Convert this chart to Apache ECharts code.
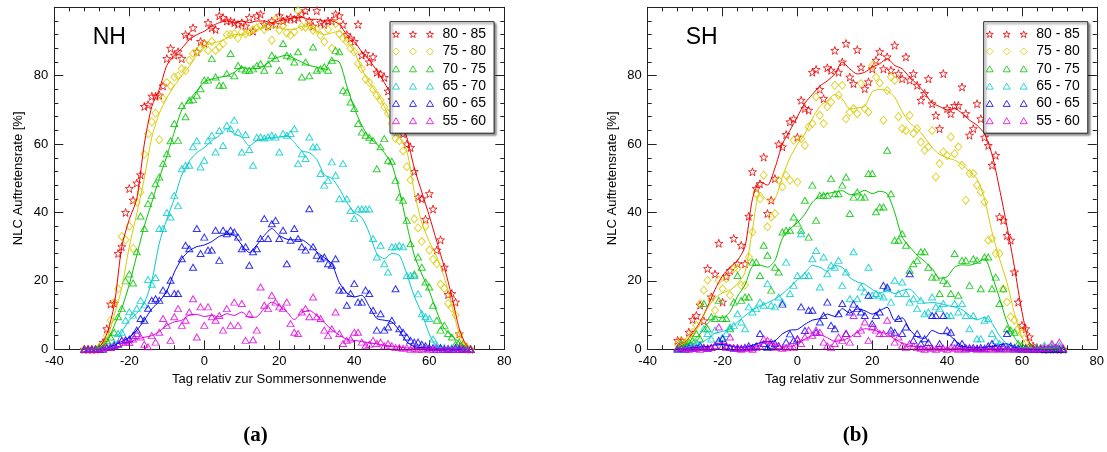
<!DOCTYPE html>
<html><head><meta charset="utf-8">
<script src="https://cdn.jsdelivr.net/npm/echarts@6/dist/echarts.min.js"></script>
<style>html,body{margin:0;padding:0;background:#fff}#c{width:1107px;height:452px}</style>
</head><body><div id="c"></div>
<script>
const BANDS = ['80 - 85','75 - 80','70 - 75','65 - 70','60 - 65','55 - 60'];
const X_TICKS = [-40,-20,0,20,40,60,80];
const Y_TICKS = [0,20,40,60,80];
const DAYS = [-32,-31,-30,-29,-28,-27,-26,-25,-24,-23,
 -22,-21,-20,-19,-18,-17,-16,-15,-14,-13,
 -12,-11,-10,-9,-8,-7,-6,-5,-4,-3,
 -2,-1,0,1,2,3,4,5,6,7,
 8,9,10,11,12,13,14,15,16,17,
 18,19,20,21,22,23,24,25,26,27,
 28,29,30,31,32,33,34,35,36,37,
 38,39,40,41,42,43,44,45,46,47,
 48,49,50,51,52,53,54,55,56,57,
 58,59,60,61,62,63,64,65,66,67,
 68,69,70,71];
const LINE_DAYS = [-32,-30,-28,-26,-24,-22,-20,-18,-16,-14,
 -12,-10,-8,-6,-4,-2,0,2,4,6,
 8,10,12,14,16,18,20,22,24,26,
 28,30,32,34,36,38,40,42,44,46,
 48,50,52,54,56,58,60,62,64,66,
 68,70];

// ---------- NH ----------
const NH_80_85 = [0,0,0,0,0.5,2,6,13.2,13.4,28,
 30,40,47,43.6,48.6,51,71,71.5,74,74,
 74.3,77,85,88,86,87,85,92,91.5,94,
 87,90,89.5,95.5,94,93.5,97.5,97,96,96,
 95.5,95,95.5,94.5,97,93,97.5,98,95,94.5,
 96,95,97.5,96,96.5,97,96.5,97,98,99,
 96,94.5,99,95.5,95,96,96,98,97.5,95,
 92,91,90,95,86,86.5,84,85.5,81,80.5,
 79.5,75.5,73,70,66,63,60,59,52,44.5,
 44,38,45.5,41,29,32,24,16,16.3,13.8,
 4.5,1.5,0.5,0];
const NH_80_85_LINE = [0,0,0.5,4.5,13,30,38,44,60,71,
 76,83,86,88,90.5,92,93,94.5,95.5,96,
 95.5,96,95.5,96,96,95.5,96,96.5,97,97,
 96.5,96.5,96,96,95,92,90,87,84.5,81.5,
 78,74,68,62,53,46,39,31.5,24,15.5,
 6,0.5];
const NH_75_80 = [0,0,0,0,0.5,1,4,8.5,13.8,17.7,
 33,32,36,29.5,43,46,57,63,66.5,69,
 61.3,73.3,78,77,79.6,80,82,81.5,84.5,86.5,
 87,88,89.4,87.4,90,87.4,88.4,89.4,92,92,
 92.3,91,92.8,92.3,92.8,93.5,94,94.7,93.5,94.4,
 90.4,96.4,93.3,94.7,92.5,91.8,92.8,99,94.4,94.2,
 94.7,93.3,93.5,91.8,89.9,93.5,88,95.2,92.3,91,
 89.9,88,87,83.5,82,79,78,76,74.3,72.8,
 70.9,69,66,61.7,61,58,53.4,49.5,38.1,35.5,
 31.5,36,29,26.3,25,19,17.8,13.4,12,10,
 4.4,1,0.5,0];
const NH_75_80_LINE = [0,0,0.5,3,10,18,30,39.7,50,62,
 69,73.5,77,80,82.7,86,88.5,89.5,90,91,
 92,92,92.5,93.5,94,94,94,93.5,93.5,94.5,
 94.5,93,92,92.5,93,90,87,82,78,75,
 71,66,62,58,46,37,31.5,27,21,13,
 4.5,0.5];
const NH_70_75 = [0,0,0,0,0.5,1,2.5,3.6,5,9.5,
 11.9,20,22,19.4,28.5,39,35.3,42.6,45,48.4,
 50.4,54.3,57.2,61,66,61.1,71.3,68,72.8,73,
 74.3,76.2,78.7,78.7,85,79.6,77.2,77.2,80.6,86.5,
 80,83,82,81.6,81.6,82,83,83.5,81.6,83.5,
 86,85,81.6,89.4,86,85.5,84,87,79.6,84,
 80,88.4,81.6,82,82.6,81.6,84.5,87.4,87,75.7,
 75.2,72.3,70.4,66,63.5,62.6,62,61.1,52.8,59.2,
 61.6,55.3,55,49.4,44.5,43.6,37.7,30.9,22,27,
 24,19.7,18.2,12.9,8.5,5.6,7,4.6,3.6,1.5,
 2.1,0.5,0,0];
const NH_70_75_LINE = [0,0,0.5,2,7,12,19,27.5,36,43,
 50,56.5,63.5,70,73,75.5,78.2,79,79.5,80,
 81,82.5,82,82,83,84.5,85.5,86,85,84,
 83,82.5,82,84.5,84,77,70.5,65.5,62,60,
 57.5,54,46.5,36.5,27.5,22,17,11,6,4,
 2,0.5];
const NH_65_70 = [0,0,0,0,0,0.5,0.5,1,1.7,4.6,
 5,8.5,11,10,12,14.3,13,20.4,19,21,
 35.3,35.3,40,38.7,45,42,52.8,53.8,53.8,59.2,
 61,53.3,55.3,61,62.6,57.7,64,59.6,65.5,64.5,
 67,63.5,57.7,62.8,58.4,53.8,62,62.1,61.8,62.1,
 62.6,62.1,57.7,63.1,62.6,63.1,64.5,54.3,57.2,55.8,
 62.1,59.2,59.2,51.4,48,49.4,54.8,50.9,44,54.3,
 44,40.6,38.2,41,41,41,41,32.4,27,30.4,
 25,22.6,30,30,30.4,30,21.6,21.6,21.6,16.2,
 10.4,9.5,9,3,1.2,0.5,0.5,0,0.5,0,
 0.5,0,0,0];
const NH_65_70_LINE = [0,0,0,0.3,1,5,8.5,10.5,13.5,20,
 31,38,44,51,55,57.5,59,61,62.5,64.5,
 63,62,59.5,61,61.5,62,62,62.5,60.5,58,
 57.5,55.5,51,50,47,43,40,38.5,34,28,
 26.5,28,27.5,22,15.5,10.5,4.5,0.7,0.3,0.3,
 0.3,0];
const NH_60_65 = [0,0,0,0,0,0,0.5,0.5,1.2,1.5,
 2.6,2.8,3,4,5.6,9,8.5,12,14.3,14.8,
 14.3,17.3,16.3,20.2,16.3,16.3,26.5,30.4,29.4,24,
 35.3,28,32.8,29,29,34.8,26,34.8,33.8,34.8,
 34.3,32.8,29.4,30,24.6,28.5,29.4,32.4,38.2,32.4,
 36.7,37.7,32.4,34.8,25,31.9,35.3,32.4,30,29,
 41.1,30,27.5,26.5,27,25,24.6,26.5,17.3,17.3,
 12.9,16.3,19.2,13.8,13.8,17.3,16.3,11.4,5.6,10.4,
 5.6,6.5,8.5,17.7,6,5,3.6,2.6,2.1,2.1,
 1.5,1,0.5,0.5,0,0.5,0,0,0,0.5,
 0,0,0,0];
const NH_60_65_LINE = [0,0,0,0.3,1.2,2.3,3.5,5.6,8.5,11.8,
 14,17,22.5,26.5,28.8,30,30.5,31.5,33,33.6,
 33.3,30.5,28.3,30.5,33.3,35.3,33.3,32.2,32,32,
 30.5,28.5,26.8,25,19.5,16.5,15.3,15.8,12.5,9,
 8.5,8,5.5,2.2,0.8,0.5,0.3,0.2,0.1,0.1,
 0.1,0];
const NH_55_60 = [0,0,0,0,0,0.3,0.5,0.5,1,1.7,
 2.6,2.1,2,3,4.6,3.6,1.5,0.7,4,2.1,
 5,9,7,2.6,9.5,11.9,7,8.5,10.9,14.8,
 3.6,12.4,7,12.4,9.5,8.5,9.9,5.6,11.9,7,
 13.8,7,13.4,2.6,10.4,2.8,5.6,18.2,12.9,11.9,
 15.8,13.8,12.4,11.9,13.8,7.5,5,4.6,10.9,11.9,
 9.5,15.3,9.5,9,5.6,4,6,10.9,4.6,1.7,
 2.6,3,5,5,2.1,1.2,1.5,2.6,1.7,2.1,
 1,1.7,1,0.5,0.5,0.3,0.5,0,0.3,0,
 0,0.3,0,0,0.5,0,0,0.3,0,0,
 0.5,0,0,0];
const NH_55_60_LINE = [0,0,0,0.3,0.5,1,2,3,3.5,4,
 5.2,7,8,8.5,10,10.2,9.6,9.9,9.5,10.4,
 9.9,10.9,9.3,9.5,12,13.8,12.7,11,8.7,10.7,
 11.4,9.8,7.8,5.7,4.2,2.9,2.6,2.3,1.9,1.6,
 1.2,0.9,0.6,0.4,0.3,0.2,0.2,0.2,0.1,0.1,
 0.1,0];

// ---------- SH ----------
const SH_80_85 = [2.6,2.6,1.5,5,8.7,9.9,12.9,8.3,23.6,15.3,
 22,31,13.8,21.3,23,32.4,25,30.4,25,38.9,
 51.9,47,48.4,56.2,39.7,43.6,49.9,60,59.2,62.8,
 66.5,67.4,62,72.8,70.4,69.9,81,81.8,76,73.3,
 82.3,81.6,87.4,81,84,89.4,79.6,77.7,87.6,82.5,
 76.2,78.2,82,84.5,87,82,85.5,81.6,88.9,80.6,
 79.1,85.5,78.7,80.6,77.2,72.8,74.8,79.1,71.8,68.4,
 64.5,80.6,70.4,68.9,71.3,71.3,76.7,68.9,62.6,64.5,
 71.8,67.4,62,59.6,53.8,56.7,38.7,37.7,33.3,31.9,
 22.6,13.8,7,6,3.6,1,0.5,0.3,0,0,
 0.3,0,0,0];
const SH_80_85_LINE = [1,2.1,4.8,8,12.5,17.5,21.5,24,26,30,
 44,49,48,53,60,64,68,72,74.5,77,
 78.5,80.5,84,82,80.5,81,82.5,83.5,85,83,
 82,79.5,77.5,75,72,71,70,70.4,69,67,
 65.5,63,57,47,36,24,11,2,0.3,0.2,
 0.2,0];
const SH_75_80 = [1.5,2.6,1.5,3,5,7,13.4,17.3,20.2,14.8,
 11.4,20.2,17.7,20.7,15.8,23.6,23.6,18.7,18.7,27,
 34.3,45.5,44,50.9,35.8,38.7,39.7,49.4,47.5,50.9,
 49.4,61.1,48.9,61.6,59.6,65,66,73.8,68.4,66,
 70.9,72.3,77.2,74.3,77.2,67.4,69.3,70.4,68.9,77.7,
 70.4,69.4,83,79.6,77.9,67,75.7,79.6,78.7,68,
 64.5,64,68.4,63.1,64.5,60.6,58.2,59.2,64,50.4,
 54.3,57.7,56.7,62.1,57.2,59.2,53.8,43.6,51.4,51.4,
 48,46,43.1,31.9,32.4,28,28,17.7,13.8,9.5,
 8.5,6,4.6,1.7,0.5,0.3,0,0.3,0,0,
 0,0.3,0,0];
const SH_75_80_LINE = [0.8,2,4.3,7.5,12,15,16.5,17.3,19.2,22.5,
 35,46,43.6,44,50.5,56,60,63,67.5,71,
 72.7,74.5,73.2,70.3,70.6,71,75.3,76,75.7,73.7,
 69.5,66.2,64.5,62,59,57,56,55.3,54,52,
 49.8,44,34.3,26.5,19.5,10.5,3.5,0.6,0.2,0.2,
 0.1,0];
const SH_70_75 = [0.5,1.7,1,2.1,2.6,4.6,3,13.4,6,9.5,
 9,14.3,9,9,6,13.8,21.6,14.3,15.3,15.3,
 25.5,25.5,21.6,30.4,27.5,17.3,24,22.6,34.3,34.8,
 34.8,38.7,36.9,34.8,43.6,32.8,48,37.7,45,45,
 45,49.9,45.5,45.5,48,50.4,39.7,44.5,46,44.5,
 44.5,51.4,51.4,40.2,41.6,41.6,58.2,45.5,31.9,31.9,
 33.8,30.4,23.1,25,26,28.5,28.5,24,21.1,21.1,
 16.3,20.2,19.2,16.3,28,15.8,26,26,18.7,26.5,
 26,17.7,27,27,17.7,21.1,13.4,17.7,6,5.6,
 5,1.7,1.2,0.5,1,0.3,0,0.3,0,0,
 0,0,0,0];
const SH_70_75_LINE = [0.5,1.2,2.3,4.5,7.5,9.5,9.2,11,15.5,18.8,
 24.3,24.6,24,26,32.5,35.2,37,39.5,43,44.8,
 45.5,46,46.4,45.2,45.5,46.5,45.5,46.2,45.5,40,
 32.8,30,27.5,25.7,23.6,20.8,21.2,24,24.7,24.6,
 25.3,26.5,21.5,15,8,3.5,0.8,0.3,0.2,0.1,
 0.1,0];
const SH_65_70 = [0.3,0.5,0.5,1.2,1.2,2,1,6,4.6,3,
 5.6,2,3.5,4.6,6.5,7,10.4,8,6,12.4,
 10.9,11.9,13.8,12.9,19.2,12.9,12.4,15.3,13.8,25.5,
 16.3,18.7,21.6,33.8,21.6,21.6,26.5,28.9,18.2,27,
 22.1,24.6,24,26,18.7,22.6,14.8,28.5,14.8,18.2,
 16.8,24,15.8,16.3,15.8,15.3,17.7,13.8,20.2,16.3,
 19.7,16.3,13.8,14.8,11.9,14.3,10.4,10.9,15.3,12.4,
 11.9,13.4,9.9,9.9,13.4,10.9,13.4,9.9,6,9.9,
 3.1,3.1,8.5,9,4.6,2.6,1.7,0.5,0.3,0.3,
 0,0.3,0,0.3,0,0.3,0.5,0.3,1.2,0.5,
 1.2,0.5,1.2,0.3];
const SH_65_70_LINE = [0.2,0.5,1,1.8,3,4.7,5.2,6,8,9.8,
 11.5,12.6,13.6,14.7,16.2,18.2,20.3,22.3,24.5,24,
 22.8,24.5,24,21,19.7,19,17.5,16.4,17.2,16.3,
 17.2,17.6,15.5,13.5,13.7,13.4,12.8,12.4,11.6,9.9,
 8.6,9.4,7.6,4,1.5,0.7,0.4,0.3,0.4,0.6,
 0.7,0.6];
const SH_60_65 = [0,0.3,0,0.5,0.3,0.5,1.2,0.5,0.3,0.5,
 1,2.6,3.1,1,0.5,0.3,0.5,0.3,0.5,1,
 0.5,1,4.6,1.7,0.5,1.2,1.7,1,13.2,2.1,
 4.5,2.6,3,12.4,5.5,11.4,11.4,5,8,9.9,
 13.8,7,6,10.4,13.4,4.6,10.9,13.2,11.9,10.9,
 9.9,15.8,7.5,9.9,10.9,18.7,18.2,5.6,5,9,
 4.6,6.5,22.1,2.6,4.6,1.7,3.1,2,9.9,9.9,
 1.7,9.9,5.6,5,2.1,1,1.7,0.5,0.3,0.5,
 0.3,0.5,0.3,1,1.7,0.5,0.3,1,4.6,1,
 0.5,0.3,0,0.3,0,0,0,0,0,0,
 0,0,0,0];
const SH_60_65_LINE = [0.2,0.3,0.4,0.7,0.8,1.3,1.4,1,0.6,0.6,
 1.2,1.9,2.2,2.5,4.5,5.6,5.8,7.3,8.5,9,
 10.3,9.6,11.9,10.6,11.8,11.3,10.3,11.3,12.3,8.5,
 9.2,5.8,3.6,3.2,5.5,4.6,4.5,2.8,1,0.5,
 0.4,0.5,0.9,1.3,1.6,0.6,0.2,0.1,0,0,
 0,0];
const SH_55_60 = [0.3,0.5,0.3,0,0.5,0.3,0,0.5,0.3,0.5,
 1,6.5,1,0.5,3.6,0.5,0.3,0,0.5,0.3,
 0,0.5,1,3.1,2.6,2.1,0.5,1,0.3,0.5,
 1,0.5,3.1,1.7,3.6,5.6,4.1,5.6,5,2.1,
 1,0.5,1.7,3.6,2.6,4.6,2.1,9.9,4.6,5.6,
 8,2.6,6.5,5.6,4.6,4.6,8.5,4.6,2.1,3.6,
 1.2,0.5,1.7,1,0.5,0.3,0,0.5,0.3,0,
 0.5,0.3,0,0.5,0.3,0,0.3,0,0.5,0.3,
 0,0.3,0,0.3,0,0.3,0,0.3,0,0.3,
 0,0.3,0,0.3,0,0.3,0,0.3,0.5,0.3,
 1.7,0.5,2.1,0.3];
const SH_55_60_LINE = [0.3,0.3,0.3,0.3,0.4,1.5,1.8,1.3,0.5,0.4,
 0.4,1.2,2.2,1.6,0.7,0.7,1.6,3,4,4.2,
 3.4,2.3,2.6,3.5,5,6,5.8,5,4.5,3,
 1.8,1.2,0.6,0.3,0.3,0.3,0.3,0.3,0.2,0.3,
 0.2,0.2,0.2,0.2,0.2,0.2,0.2,0.2,0.3,0.6,
 0.9,0.9];

const NH_POINTS = [NH_80_85, NH_75_80, NH_70_75, NH_65_70, NH_60_65, NH_55_60];
const NH_LINES  = [NH_80_85_LINE, NH_75_80_LINE, NH_70_75_LINE, NH_65_70_LINE, NH_60_65_LINE, NH_55_60_LINE];
const SH_POINTS = [SH_80_85, SH_75_80, SH_70_75, SH_65_70, SH_60_65, SH_55_60];
const SH_LINES  = [SH_80_85_LINE, SH_75_80_LINE, SH_70_75_LINE, SH_65_70_LINE, SH_60_65_LINE, SH_55_60_LINE];

// ---------- styling ----------
const COLORS = ['#ee0000', '#d8ca00', '#00c400', '#00cccc', '#0000ee', '#dd00dd'];
const FONT = 'Liberation Sans, Arial, sans-serif';
const STAR = [[5,0],[6.18,3.38],[9.76,3.45],[6.9,5.62],[7.94,9.05],[5,7],[2.06,9.05],[3.1,5.62],[0.24,3.45],[3.82,3.38]];
const polyPath = (pts, sx, ox) => 'M' + pts.map(p => (p[0]*sx+ox).toFixed(2) + ',' + (p[1]*sx).toFixed(2)).join('L') + 'Z';
const STAR_SYMBOL = 'path://' + polyPath(STAR, 1, 0);
const TRI = [[0,6],[3.5,0],[7,6]];
const DIA = [[3.5,0],[7,3.5],[3.5,7],[0,3.5]];
const triple = (pts, sx) => 'path://' + [0,17,34].map(o => polyPath(pts, sx, o)).join(' ');
const LEGEND_ICONS = [triple(STAR, 0.74), triple(DIA, 1), triple(TRI, 1), triple(TRI, 1), triple(TRI, 1), triple(TRI, 1)];
const SYMBOLS = [STAR_SYMBOL, 'diamond', 'triangle', 'triangle', 'triangle', 'triangle'];
const SIZES = [8, [7,8], [7,6], [7,6], [7,6], [7,6]];

const pairs = (xs, ys) => xs.map((x, i) => [x, ys[i]]);

const GRIDS = [
  {left: 54.3, top: 7.3, width: 450, height: 342},
  {left: 647.7, top: 7.3, width: 450, height: 342}
];

const lineCol = '#222';
function xAxes(g) {
  const base = {
    type: 'value', gridIndex: g, min: -40, max: 80, interval: 20,
    axisLine: {show: true, onZero: false, lineStyle: {color: lineCol, width: 1}},
    axisTick: {show: true, inside: true, length: 9, lineStyle: {color: lineCol}},
    minorTick: {show: true, splitNumber: 5, length: 4, lineStyle: {color: lineCol}},
    splitLine: {show: false}
  };
  return [
    Object.assign({}, base, {
      position: 'bottom',
      axisLabel: {color: '#000', fontSize: 13, fontFamily: FONT, margin: 6},
      name: 'Tag relativ zur Sommersonnenwende', nameLocation: 'middle', nameGap: 15,
      nameTextStyle: {color: '#000', fontSize: 13, fontFamily: FONT}
    }),
    Object.assign({}, base, {position: 'top', axisLabel: {show: false}})
  ];
}
function yAxes(g) {
  const base = {
    type: 'value', gridIndex: g, min: 0, max: 100, interval: 20,
    axisLine: {show: true, onZero: false, lineStyle: {color: lineCol, width: 1}},
    axisTick: {show: true, inside: true, length: 9, lineStyle: {color: lineCol}},
    minorTick: {show: true, splitNumber: 5, length: 4, lineStyle: {color: lineCol}},
    splitLine: {show: false}
  };
  return [
    Object.assign({}, base, {
      position: 'left',
      axisLabel: {color: '#000', fontSize: 13, fontFamily: FONT, margin: 6, showMaxLabel: false},
      name: 'NLC Auftretensrate [%]', nameLocation: 'middle', nameGap: 29,
      nameTextStyle: {color: '#000', fontSize: 13, fontFamily: FONT}
    }),
    Object.assign({}, base, {position: 'right', axisLabel: {show: false}})
  ];
}

const series = [];
[[NH_POINTS, NH_LINES], [SH_POINTS, SH_LINES]].forEach(([P, L], p) => {
  BANDS.forEach((b, i) => {
    series.push({
      type: 'scatter', name: b, xAxisIndex: p*2, yAxisIndex: p*2,
      data: pairs(DAYS, P[i]), symbol: SYMBOLS[i], symbolSize: SIZES[i],
      itemStyle: {color: 'transparent', borderColor: COLORS[i], borderWidth: 1},
      clip: false, silent: true
    });
    series.push({
      type: 'line', name: b + ' glatt', xAxisIndex: p*2, yAxisIndex: p*2,
      data: pairs(LINE_DAYS, L[i]), showSymbol: false, symbol: 'none',
      lineStyle: {color: COLORS[i], width: 1}, smooth: 0.25, silent: true
    });
  });
});

function legend(left) {
  return {
    left: left, top: 21.7, orient: 'vertical',
    padding: [5.5, 8, 5.5, 2], itemGap: 3.3, itemWidth: 41, itemHeight: 7,
    backgroundColor: '#fff', borderColor: '#222', borderWidth: 1,
    shadowColor: 'rgba(0,0,0,0.45)', shadowBlur: 2, shadowOffsetX: 2, shadowOffsetY: 2,
    selectedMode: false,
    itemStyle: {color: 'transparent', borderWidth: 1},
    textStyle: {color: '#000', fontSize: 14, fontFamily: FONT, padding: [0, 0, 0, 4]},
    data: BANDS.map((b, i) => ({name: b, icon: LEGEND_ICONS[i]}))
  };
}

const chart = echarts.init(document.getElementById('c'), null, {renderer: 'canvas'});
chart.setOption({
  animation: false,
  backgroundColor: '#fff',
  grid: GRIDS,
  xAxis: xAxes(0).concat(xAxes(1)),
  yAxis: yAxes(0).concat(yAxes(1)),
  legend: [legend(390), legend(983.7)],
  graphic: [
    {type: 'text', left: 92.7, top: 26.5, style: {text: 'NH', fontSize: 23, fontFamily: FONT, fill: '#000'}},
    {type: 'text', left: 685.7, top: 26.5, style: {text: 'SH', fontSize: 23, fontFamily: FONT, fill: '#000'}},
    {type: 'text', x: 255.5, y: 436, style: {text: '(a)', fontSize: 21, fontWeight: 'bold', fontFamily: 'Liberation Serif, serif', fill: '#000', align: 'center', verticalAlign: 'middle'}},
    {type: 'text', x: 855.5, y: 436, style: {text: '(b)', fontSize: 21, fontWeight: 'bold', fontFamily: 'Liberation Serif, serif', fill: '#000', align: 'center', verticalAlign: 'middle'}}
  ],
  series: series
});
</script></body></html>
